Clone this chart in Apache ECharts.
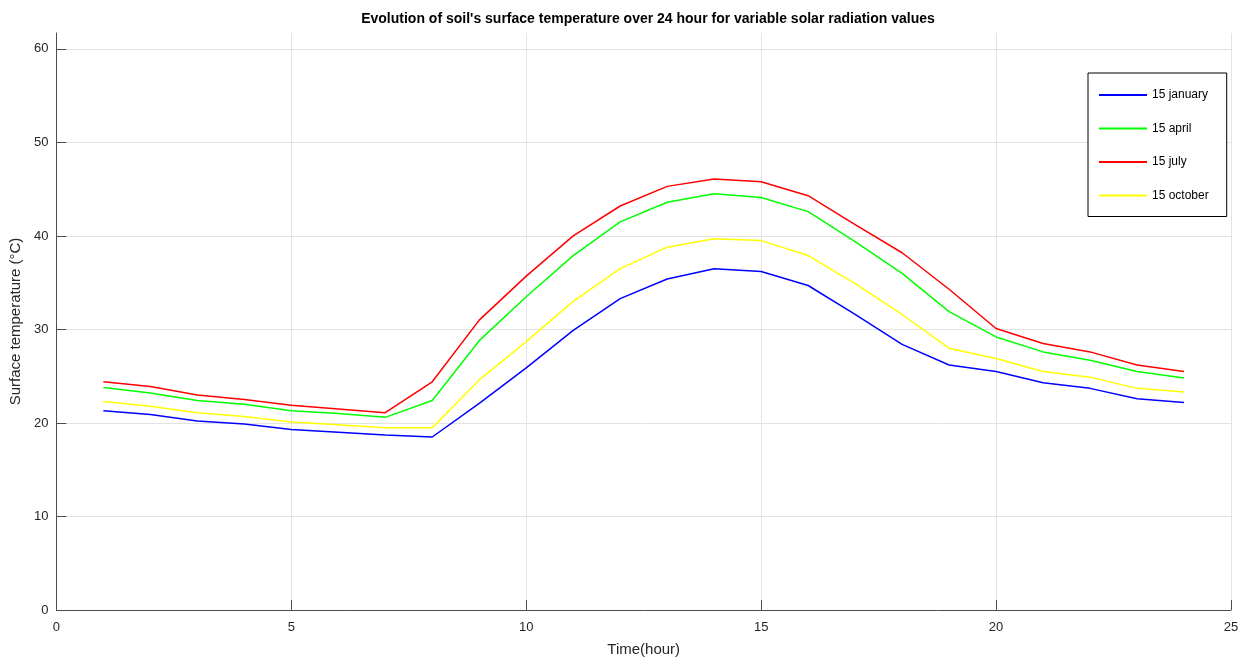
<!DOCTYPE html>
<html>
<head>
<meta charset="utf-8">
<script src="https://cdn.jsdelivr.net/npm/echarts@6/dist/echarts.min.js"></script>
<style>
  html, body { margin: 0; padding: 0; background: #fff; }
  #chart { width: 1247px; height: 662px; }
</style>
</head>
<body>
<div id="chart"></div>
<script>
// hours of the day
const hours = [1, 2, 3, 4, 5, 6, 7, 8, 9, 10, 11, 12, 13, 14, 15, 16, 17, 18, 19, 20, 21, 22, 23, 24];

// surface temperature (°C) per month
const january = [21.3, 20.9, 20.2, 19.9, 19.3, 19.0, 18.7, 18.5, 22.1, 25.9, 29.9, 33.3,
  35.4, 36.5, 36.2, 34.7, 31.6, 28.4, 26.2, 25.5, 24.3, 23.7, 22.6, 22.2];
const april = [23.8, 23.2, 22.4, 22.0, 21.3, 21.0, 20.6, 22.4, 28.8, 33.5, 37.9, 41.5,
  43.6, 44.5, 44.1, 42.6, 39.4, 36.0, 31.9, 29.2, 27.6, 26.7, 25.5, 24.8];
const july = [24.4, 23.9, 23.0, 22.5, 21.9, 21.5, 21.1, 24.4, 31.0, 35.7, 40.0, 43.2,
  45.3, 46.1, 45.8, 44.3, 41.2, 38.2, 34.3, 30.1, 28.5, 27.6, 26.2, 25.5];
const october = [22.3, 21.8, 21.1, 20.7, 20.1, 19.8, 19.5, 19.5, 24.6, 28.7, 33.0, 36.5,
  38.8, 39.7, 39.5, 37.9, 34.9, 31.6, 28.0, 26.9, 25.5, 24.9, 23.7, 23.3];

const seriesNames = ['15 january', '15 april', '15 july', '15 october'];
const seriesData = [january, april, july, october];
const seriesColors = ['#0000ff', '#00ff00', '#ff0000', '#ffff00'];

const axisColor = '#262626';
const gridColor = '#e3e3e3';
const fontFamily = '"Liberation Sans", Arial, Helvetica, sans-serif';

const chart = echarts.init(document.getElementById('chart'));

chart.setOption({
  animation: false,
  textStyle: { fontFamily },
  title: {
    text: "Evolution of soil's surface temperature over 24 hour for variable solar radiation values",
    left: 643,
    textAlign: 'center',
    top: 7,
    textStyle: { fontSize: 14, fontWeight: 'bold', color: '#000', fontFamily },
  },
  legend: {
    orient: 'vertical',
    left: 1088,
    top: 73,
    padding: [16, 18, 15, 10],
    itemWidth: 48,
    itemHeight: 14,
    itemGap: 21.5,
    borderColor: '#000',
    borderWidth: 1,
    backgroundColor: '#fff',
    itemStyle: { opacity: 0 },
    textStyle: { fontSize: 12, color: '#000', fontFamily },
    data: seriesNames,
  },
  grid: {
    left: 55,
    right: 16,
    top: 33,
    bottom: 52,
  },
  xAxis: {
    type: 'value',
    min: 0,
    max: 25,
    interval: 5,
    name: 'Time(hour)',
    nameLocation: 'middle',
    nameGap: 32,
    nameTextStyle: { fontSize: 15, color: axisColor },
    axisLine: { show: true, onZero: false, lineStyle: { color: '#4d4d4d', width: 1 } },
    axisTick: { show: true, inside: true, length: 10, lineStyle: { color: '#4d4d4d' } },
    axisLabel: { fontSize: 13, color: axisColor, margin: 11 },
    splitLine: { show: true, lineStyle: { color: gridColor, width: 1 } },
  },
  yAxis: {
    type: 'value',
    min: 0,
    max: 61.7,
    interval: 10,
    name: 'Surface temperature (°C)',
    nameLocation: 'middle',
    nameGap: 28,
    nameRotate: 90,
    nameTextStyle: { fontSize: 15, color: axisColor },
    axisLine: { show: true, lineStyle: { color: '#4d4d4d', width: 1 } },
    axisTick: { show: true, inside: true, length: 10, lineStyle: { color: '#4d4d4d' } },
    axisLabel: { fontSize: 13, color: axisColor, margin: 8, showMaxLabel: false },
    splitLine: {
      show: true,
      lineStyle: {
        color: [gridColor, gridColor, gridColor, gridColor, gridColor, gridColor, gridColor, 'rgba(0,0,0,0)'],
        width: 1,
      },
    },
  },
  series: seriesNames.map((name, i) => ({
    name,
    type: 'line',
    data: hours.map((h, j) => [h, seriesData[i][j]]),
    symbol: 'none',
    color: seriesColors[i],
    lineStyle: { color: seriesColors[i], width: 1.5 },
  })),
});
</script>
</body>
</html>
